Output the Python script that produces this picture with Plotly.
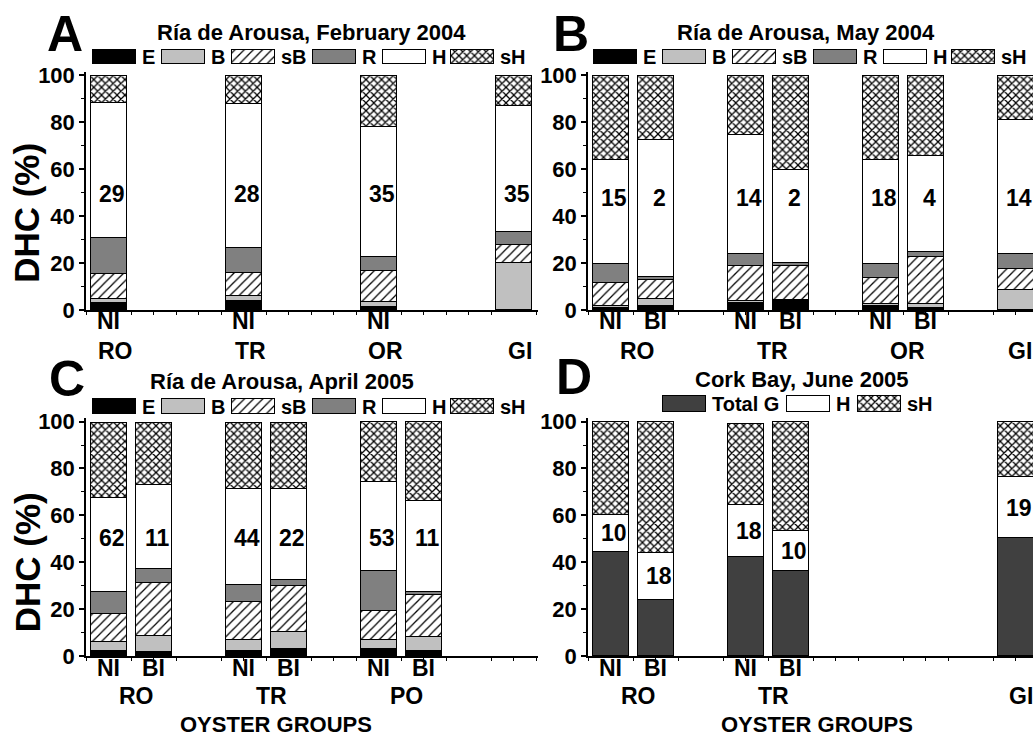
import numpy as np
import plotly.graph_objects as go

W, H = 1033, 751
FONT = "Liberation Sans, Arial, Helvetica, sans-serif"

# ------------------------------------------------------------------ data
# Panel A : Ría de Arousa, February 2004
A_groups = ["RO", "TR", "OR", "GI"]
A_bar_group = [0, 1, 2, 3]
A_bar_sub = [0, 0, 0, 0]
A_ticks = ["NI", "NI", "NI", ""]
A_E = [3.2, 4.1, 1.4, 0.0]
A_B = [1.4, 1.8, 2.0, 20.3]
A_sB = [10.6, 10.0, 13.4, 7.3]
A_R = [15.6, 10.7, 5.8, 5.5]
A_H = [57.5, 61.2, 55.3, 53.8]
A_sH = [11.7, 12.2, 22.1, 13.1]
A_n = [29, 28, 35, 35]

# Panel B : Ría de Arousa, May 2004
B_groups = ["RO", "TR", "OR", "GI"]
B_bar_group = [0, 0, 1, 1, 2, 2, 3]
B_bar_sub = [0, 1, 0, 1, 0, 1, 0]
B_ticks = ["NI", "BI", "NI", "BI", "NI", "BI", ""]
B_E = [0.8, 1.7, 3.0, 3.9, 1.9, 1.0, 0.0]
B_B = [0.8, 2.9, 0.7, 0.3, 0.7, 1.8, 8.7]
B_sB = [10.1, 8.1, 15.2, 14.7, 11.2, 20.0, 9.0]
B_R = [8.0, 1.4, 5.0, 1.1, 5.9, 2.0, 6.2]
B_H = [44.2, 58.6, 50.9, 39.7, 44.2, 41.1, 57.2]
B_sH = [36.1, 27.3, 25.2, 40.3, 36.1, 34.1, 18.9]
B_n = [15, 2, 14, 2, 18, 4, 14]

# Panel C : Ría de Arousa, April 2005
C_groups = ["RO", "TR", "PO"]
C_bar_group = [0, 0, 1, 1, 2, 2]
C_bar_sub = [0, 1, 0, 1, 0, 1]
C_ticks = ["NI", "BI", "NI", "BI", "NI", "BI"]
C_E = [2.1, 1.7, 2.1, 3.2, 3.2, 2.1]
C_B = [3.8, 6.9, 4.8, 6.9, 3.7, 5.9]
C_sB = [12.0, 22.4, 16.1, 19.8, 12.3, 18.2]
C_R = [9.3, 6.2, 7.3, 2.5, 17.1, 1.1]
C_H = [40.0, 35.6, 41.0, 38.9, 37.9, 38.9]
C_sH = [32.3, 26.7, 28.2, 28.2, 25.8, 33.8]
C_n = [62, 11, 44, 22, 53, 11]

# Panel D : Cork Bay, June 2005
D_groups = ["RO", "TR", "", "GI"]
D_bar_group = [0, 0, 1, 1, 3]
D_bar_sub = [0, 1, 0, 1, 0]
D_ticks = ["NI", "BI", "NI", "BI", ""]
D_G = [44.4, 24.1, 42.3, 36.3, 50.3]
D_H = [15.9, 20.0, 22.0, 16.9, 26.0]
D_sH = [39.7, 55.9, 34.7, 46.8, 23.7]
D_n = [10, 18, 18, 10, 19]

TITLES = {"A": "Ría de Arousa, February 2004", "B": "Ría de Arousa, May 2004",
          "C": "Ría de Arousa, April 2005", "D": "Cork Bay, June 2005"}

PANELS = {
    "A": dict(groups=A_groups, group=A_bar_group, sub=A_bar_sub, ticks=A_ticks, n=A_n,
              segs=[("E", A_E), ("B", A_B), ("sB", A_sB), ("R", A_R), ("H", A_H), ("sH", A_sH)]),
    "B": dict(groups=B_groups, group=B_bar_group, sub=B_bar_sub, ticks=B_ticks, n=B_n,
              segs=[("E", B_E), ("B", B_B), ("sB", B_sB), ("R", B_R), ("H", B_H), ("sH", B_sH)]),
    "C": dict(groups=C_groups, group=C_bar_group, sub=C_bar_sub, ticks=C_ticks, n=C_n,
              segs=[("E", C_E), ("B", C_B), ("sB", C_sB), ("R", C_R), ("H", C_H), ("sH", C_sH)]),
    "D": dict(groups=D_groups, group=D_bar_group, sub=D_bar_sub, ticks=D_ticks, n=D_n,
              segs=[("Total G", D_G), ("H", D_H), ("sH", D_sH)]),
}

# ------------------------------------------------------------------ styles
def hatch(shape, size, sol):
    return dict(shape=shape, size=size, solidity=sol, fgcolor="black",
                bgcolor="white", fillmode="replace")

STYLE = {
    "E": dict(color="#000000"),
    "B": dict(color="#c0c0c0"),
    "sB": dict(color="white", pattern=hatch("/", 6.5, 0.2)),
    "R": dict(color="#808080"),
    "H": dict(color="white"),
    "sH": dict(color="white", pattern=hatch("x", 5.5, 0.4)),
    "Total G": dict(color="#404040"),
}

PXU = 45.0      # px per x unit
PYU = 2.417     # px per y unit
YMAX = 101.5

LEG_OFF = [0, 69, 139, 220, 290, 358]
GEOM = {
    "A": dict(x0=86, x1=538, y0=310, letter=(65, 26), title=(311, 24), leg_y=(42, 57),
              leg=[(l, 93 + o) for l, o in zip(["E", "B", "sB", "R", "H", "sH"], LEG_OFF)],
              ytitle=210, tick_y=321, grp_y=352, num_y=49.5, oyster=None, goff=0.15),
    "B": dict(x0=588, x1=1033, y0=310, letter=(571, 26), title=(806, 24), leg_y=(42, 57),
              leg=[(l, 594 + o) for l, o in zip(["E", "B", "sB", "R", "H", "sH"], LEG_OFF)],
              ytitle=None, tick_y=321, grp_y=352, num_y=47.5, oyster=None, goff=0.1),
    "C": dict(x0=86, x1=538, y0=666.7, letter=(67, 381), title=(282, 384), leg_y=(402, 417),
              leg=[(l, 93 + o) for l, o in zip(["E", "B", "sB", "R", "H", "sH"], LEG_OFF)],
              ytitle=570, tick_y=679, grp_y=708, num_y=50.3, oyster=276, goff=0.12),
    "D": dict(x0=588, x1=1033, y0=666.7, letter=(574, 379), title=(802, 382), leg_y=(399, 415),
              leg=[("Total G", 663), ("H", 787), ("sH", 858)],
              ytitle=None, tick_y=679, grp_y=708, num_y=None, oyster=817, goff=0.12),
}


def bold(size):
    return dict(family=FONT, size=size, color="black", weight=700)


fig = go.Figure()
annotations = []
lay = {}

for k, (name, P) in enumerate(PANELS.items(), start=1):
    G = GEOM[name]
    sfx = "" if k == 1 else str(k)
    xr, yr = "x" + sfx, "y" + sfx
    pos = np.array([g * 3 + s for g, s in zip(P["group"], P["sub"])], dtype=float)

    cum = np.zeros(len(pos))
    h_mid = None
    for seg, vals in P["segs"]:
        vals = np.array(vals, dtype=float)
        st = STYLE[seg]
        marker = dict(color=st["color"], line=dict(color="black", width=1))
        if "pattern" in st:
            marker["pattern"] = st["pattern"]
        fig.add_trace(go.Bar(x=pos, y=vals, width=0.8, marker=marker, xaxis=xr, yaxis=yr,
                             showlegend=False, name=seg, hoverinfo="skip"))
        if seg == "H":
            h_mid = cum + vals / 2
        cum = cum + vals

    # numbers inside the H segment
    for i, (p, n) in enumerate(zip(pos, P["n"])):
        yv = G["num_y"] if G["num_y"] is not None else h_mid[i]
        annotations.append(dict(x=p + 0.08, y=yv, xref=xr, yref=yr, text=str(n), showarrow=False,
                                font=bold(23), xanchor="center", yanchor="middle"))

    # NI / BI labels under each bar
    for p, t in zip(pos, P["ticks"]):
        if t:
            annotations.append(dict(x=p, y=1 - G["tick_y"] / H, xref=xr, yref="paper", text=t,
                                    showarrow=False, font=bold(23), xanchor="center",
                                    yanchor="middle"))

    xdom = [G["x0"] / W, G["x1"] / W]
    ytop = G["y0"] - YMAX * PYU
    ydom = [1 - G["y0"] / H, 1 - ytop / H]
    xmax = -0.5 + (G["x1"] - G["x0"]) / PXU

    lay["xaxis" + sfx] = dict(
        domain=xdom, range=[-0.5, xmax], anchor=yr, showline=True, linecolor="black", linewidth=1.5,
        showticklabels=False, ticks="",
        minor=dict(ticks="outside", ticklen=3, tickwidth=1, tickcolor="black", tickmode="linear",
                   tick0=0, dtick=0.5),
        showgrid=False, zeroline=False, fixedrange=True)
    lay["yaxis" + sfx] = dict(
        domain=ydom, range=[0, YMAX], anchor=xr, showline=True, linecolor="black", linewidth=1.5,
        tickmode="array", tickvals=[0, 20, 40, 60, 80, 100], ticks="outside", ticklen=5,
        tickwidth=1.5, tickcolor="black", tickfont=bold(22),
        minor=dict(ticks="outside", ticklen=3, tickwidth=1, tickcolor="black",
                   tickmode="array", tickvals=[10, 30, 50, 70, 90]),
        showgrid=False, zeroline=False, fixedrange=True)

    # group labels
    for gi, gname in enumerate(P["groups"]):
        if not gname:
            continue
        gp = pos[np.array(P["group"]) == gi]
        if len(gp) == 0:
            continue
        annotations.append(dict(x=gp.mean() + G["goff"], y=1 - G["grp_y"] / H, xref=xr, yref="paper",
                                text=gname, showarrow=False, font=bold(23),
                                xanchor="center", yanchor="middle"))

    # panel letter and title
    lx, ly = G["letter"]
    annotations.append(dict(x=lx / W, y=1 - ly / H, xref="paper", yref="paper", text=name,
                            showarrow=False, font=bold(50), xanchor="center", yanchor="middle"))
    tx, ty = G["title"]
    annotations.append(dict(x=tx / W, y=1 - ty / H, xref="paper", yref="paper", text=TITLES[name],
                            showarrow=False, font=bold(22), xanchor="center", yanchor="middle"))
    if G["ytitle"] is not None:
        annotations.append(dict(x=27 / W, y=1 - G["ytitle"] / H, xref="paper", yref="paper",
                                text="DHC (%)", textangle=-90, showarrow=False, font=bold(35),
                                xanchor="center", yanchor="middle"))
    if G["oyster"] is not None:
        annotations.append(dict(x=G["oyster"] / W, y=1 - 737 / H, xref="paper", yref="paper",
                                text="OYSTER GROUPS", showarrow=False, font=bold(22),
                                xanchor="center", yanchor="middle"))

    # legend swatches (drawn on a pixel-unit overlay axis)
    t, b = G["leg_y"]
    for lab, left in G["leg"]:
        st = STYLE[lab]
        marker = dict(color=st["color"], line=dict(color="black", width=1))
        if "pattern" in st:
            marker["pattern"] = st["pattern"]
        fig.add_trace(go.Bar(x=[left + 21.5], y=[b - t], base=[t], width=[43], marker=marker,
                             xaxis="x5", yaxis="y5", showlegend=False, hoverinfo="skip"))
        annotations.append(dict(x=(left + 47) / W, y=1 - (t + b) / 2 / H, xref="paper", yref="paper",
                                text=lab, showarrow=False, font=bold(20),
                                xanchor="left", yanchor="middle"))

lay["xaxis5"] = dict(domain=[0, 1], range=[0, W], anchor="y5", visible=False, fixedrange=True)
lay["yaxis5"] = dict(domain=[0, 1], range=[H, 0], anchor="x5", visible=False, fixedrange=True)

fig.update_layout(
    width=W, height=H, margin=dict(l=0, r=0, t=0, b=0),
    paper_bgcolor="white", plot_bgcolor="rgba(0,0,0,0)",
    barmode="stack", bargap=0, showlegend=False,
    font=dict(family=FONT, color="black"),
    annotations=annotations, **lay)

fig.write_html("out.html", config={"displayModeBar": False},
               post_script="document.body.style.margin='0';document.body.style.overflow='hidden';")
